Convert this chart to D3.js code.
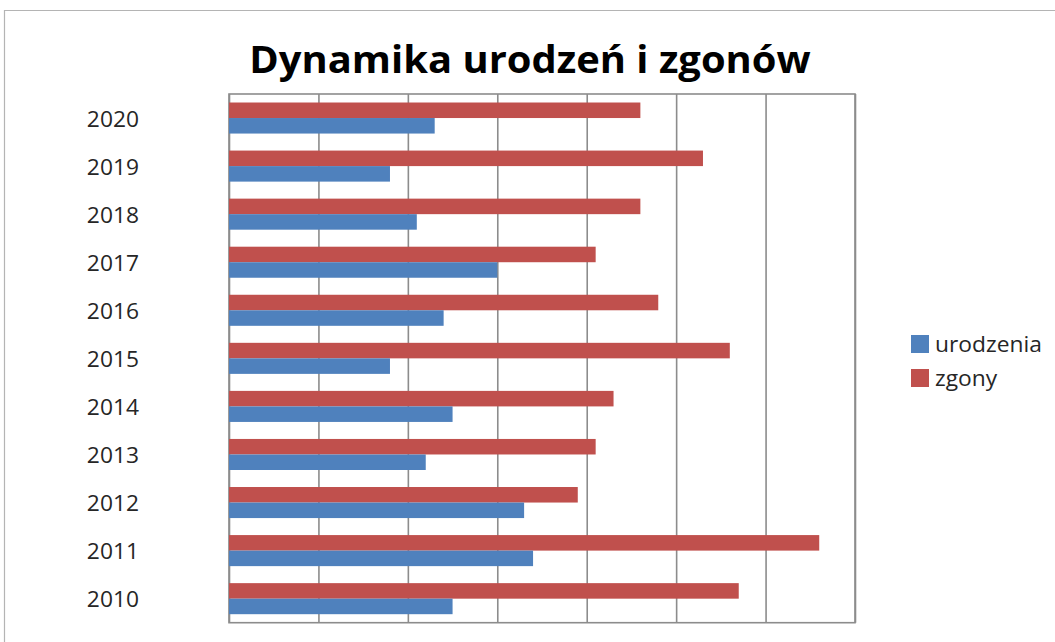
<!DOCTYPE html>
<html>
<head>
<meta charset="utf-8">
<script src="https://cdn.jsdelivr.net/npm/d3@7"></script>
<style>
  body { margin: 0; background: #fff; }
  svg { display: block; font-family: "Open Sans", sans-serif; }
</style>
</head>
<body>
<div id="chart"></div>
<script>
// data (units of one gridline)
const years = [2010, 2011, 2012, 2013, 2014, 2015, 2016, 2017, 2018, 2019, 2020];
const urodzenia = [2.5, 3.4, 3.3, 2.2, 2.5, 1.8, 2.4, 3.0, 2.1, 1.8, 2.3];
const zgony = [5.7, 6.6, 3.9, 4.1, 4.3, 5.6, 4.8, 4.1, 4.6, 5.3, 4.6];
const seriesNames = ["urodzenia", "zgony"];
const seriesColors = ["#4f81bd", "#c0504d"];
const title = "Dynamika urodzeń i zgonów";

const W = 1055, H = 642;
const plot = {left: 229, right: 855, top: 94, bottom: 622.7};
const stretch = 1.06; // text in the reference is a little wider than Open Sans

const rows = years.map((y, i) => ({year: y, urodzenia: urodzenia[i], zgony: zgony[i]}));

const svg = d3.select("#chart").append("svg")
    .attr("width", W)
    .attr("height", H);

// widen a text selection horizontally by factor k
function widen(sel, k) {
    sel.each(function() {
        const w = this.getComputedTextLength();
        d3.select(this).attr("textLength", w * k).attr("lengthAdjust", "spacingAndGlyphs");
    });
}

// outer chart frame
svg.append("path")
    .attr("d", `M${W + 2},10.5H4.5V${H + 2}`)
    .attr("fill", "none")
    .attr("stroke", "#b4b4b4")
    .attr("stroke-width", 1.2);

const x = d3.scaleLinear().domain([0, 7]).range([plot.left, plot.right]);
const y = d3.scaleBand()
    .domain(years.slice().reverse())
    .range([plot.top, plot.bottom])
    .paddingInner(0.354)
    .paddingOuter(0.177);
// red (zgony) sits above blue (urodzenia) in each band
const ySub = d3.scaleBand().domain(["zgony", "urodzenia"]).range([0, y.bandwidth()]);
const color = d3.scaleOrdinal().domain(seriesNames).range(seriesColors);

// gridlines
svg.append("g")
    .attr("transform", `translate(0,${plot.bottom})`)
    .call(d3.axisBottom(x).ticks(7).tickSize(-(plot.bottom - plot.top)).tickFormat(""))
    .call(g => g.select(".domain").remove())
    .call(g => g.selectAll(".tick line").attr("stroke", "#8c8c8c").attr("stroke-width", 1.6));

// plot border
svg.append("rect")
    .attr("x", plot.left)
    .attr("y", plot.top)
    .attr("width", plot.right - plot.left)
    .attr("height", plot.bottom - plot.top)
    .attr("fill", "none")
    .attr("stroke", "#8c8c8c")
    .attr("stroke-width", 1.6);

// bars
const groups = svg.append("g").selectAll("g")
  .data(rows)
  .join("g")
    .attr("transform", d => `translate(0,${y(d.year)})`);

groups.selectAll("rect")
  .data(d => ["zgony", "urodzenia"].map(k => ({key: k, value: d[k]})))
  .join("rect")
    .attr("x", x(0))
    .attr("y", d => ySub(d.key))
    .attr("width", d => x(d.value) - x(0))
    .attr("height", ySub.bandwidth())
    .attr("fill", d => color(d.key));

// category labels
svg.append("g").selectAll("text")
  .data(years)
  .join("text")
    .attr("x", x(0) - 90)
    .attr("y", d => y(d) + y.bandwidth() / 2 + 1)
    .attr("dy", "0.36em")
    .attr("text-anchor", "end")
    .attr("font-size", 21.5)
    .attr("fill", "#262626")
    .text(d => d)
    .call(widen, stretch);

// title
svg.append("text")
    .attr("x", 530)
    .attr("y", 73)
    .attr("text-anchor", "middle")
    .attr("font-size", 38)
    .attr("font-weight", "bold")
    .attr("fill", "#000")
    .text(title)
    .call(widen, 1.05);

// legend
const legend = svg.append("g")
    .attr("transform", "translate(911,335)");
const items = legend.selectAll("g")
  .data(seriesNames)
  .join("g")
    .attr("transform", (_, i) => `translate(0,${i * 34})`);
items.append("rect")
    .attr("width", 18)
    .attr("height", 18)
    .attr("fill", d => color(d));
items.append("text")
    .attr("x", 24)
    .attr("y", 9)
    .attr("dy", "0.36em")
    .attr("font-size", 21.5)
    .attr("fill", "#262626")
    .text(d => d)
    .call(widen, stretch);
</script>
</body>
</html>
